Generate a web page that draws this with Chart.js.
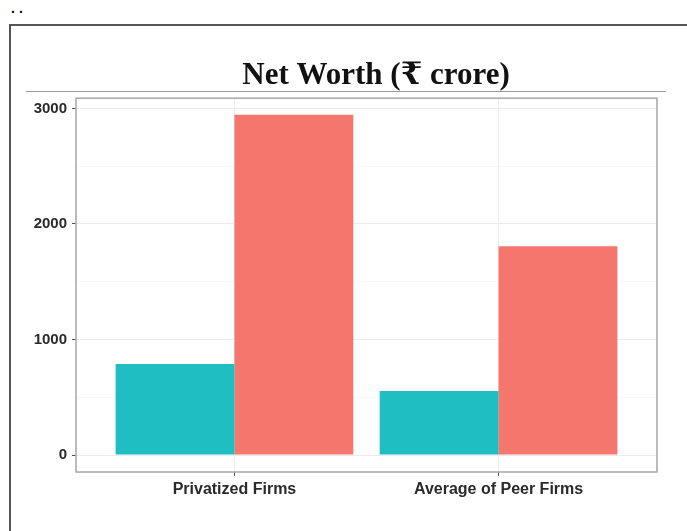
<!DOCTYPE html>
<html>
<head>
<meta charset="utf-8">
<script src="https://cdn.jsdelivr.net/npm/chart.js@4"></script>
<style>
  html, body { margin: 0; padding: 0; background: #fff; overflow: hidden; width: 687px; height: 531px; }
  #dots { position: absolute; left: 11px; top: 0px; font: bold 14px 'Liberation Sans', Arial, sans-serif; letter-spacing: 4px; line-height: 16px; color: #000; }
  #frame { position: absolute; left: 9px; top: 24px; width: 720px; height: 600px; border: 2px solid #555; box-sizing: border-box; }
  #wrap { position: absolute; left: 0; top: 0; width: 687px; height: 531px; }
</style>
</head>
<body>
<div id="dots">..</div>
<div id="frame"></div>
<div id="wrap"><canvas id="c" width="687" height="531"></canvas></div>
<script>
// ---- data ----
const categories = ["Privatized Firms", "Average of Peer Firms"];
const seriesNames = ["Series 1", "Series 2"];
const tealValues = [787, 554];
const salmonValues = [2946, 1808];
const yTickValues = [0, 1000, 2000, 3000];
const yMinorValues = [500, 1500, 2500];
const titleText = "Net Worth (₹ crore)";

const positions = categories.map((c, i) => i + 1);
const toPoints = vals => vals.map((v, i) => ({ x: positions[i], y: v }));

const decor = {
  id: 'decor',
  afterLayout(chart) {
    if (chart.titleBlock) {
      chart.titleBlock.left = 65;
      chart.titleBlock.right = 687;
    }
  },
  afterDraw(chart) {
    const ctx = chart.ctx;
    const a = chart.chartArea;
    ctx.save();
    ctx.strokeStyle = '#9a9a9a';
    ctx.lineWidth = 1;
    ctx.beginPath();
    ctx.moveTo(26, 91.5);
    ctx.lineTo(666, 91.5);
    ctx.stroke();
    ctx.strokeStyle = '#acacac';
    ctx.lineWidth = 1.6;
    ctx.strokeRect(a.left, a.top, a.right - a.left, a.bottom - a.top);
    ctx.restore();
  }
};

const yFont = { family: "'Liberation Sans', Arial, sans-serif", size: 15, weight: 'bold' };
const xFont = { family: "'Liberation Sans', Arial, sans-serif", size: 16, weight: 'bold' };

new Chart(document.getElementById('c'), {
  type: 'bar',
  data: {
    datasets: [
      { label: seriesNames[0], data: toPoints(tealValues), backgroundColor: '#1ebec3', borderWidth: 0 },
      { label: seriesNames[1], data: toPoints(salmonValues), backgroundColor: '#f4766c', borderWidth: 0 }
    ]
  },
  options: {
    responsive: false,
    animation: false,
    devicePixelRatio: 1,
    layout: { padding: { left: 0, right: 30, top: 0, bottom: 0 } },
    datasets: { bar: { categoryPercentage: 0.9, barPercentage: 1.0 } },
    plugins: {
      legend: { display: false },
      tooltip: { enabled: false },
      title: {
        display: true,
        text: titleText,
        color: '#111',
        font: { family: "'Liberation Serif', 'Times New Roman', 'DejaVu Serif', serif", size: 31, weight: 'bold', lineHeight: 1.2 },
        padding: { top: 57, bottom: 4 }
      }
    },
    scales: {
      x: {
        type: 'linear',
        min: 0.4,
        max: 2.6,
        offset: false,
        afterBuildTicks: s => { s.ticks = positions.map(v => ({ value: v })); },
        afterFit: s => { s.height = 59; },
        border: { display: false },
        grid: { offset: false, color: '#ebebeb', lineWidth: 1, tickLength: 4, tickColor: '#555', tickWidth: 1 },
        ticks: {
          font: xFont, color: '#2a2a2a', padding: 4, maxRotation: 0, autoSkip: false,
          callback: v => categories[v - 1] ?? ''
        }
      },
      y: {
        min: -147,
        max: 3089,
        afterBuildTicks: s => {
          s.ticks = yTickValues.concat(yMinorValues).sort((a, b) => a - b).map(v => ({ value: v }));
        },
        afterFit: s => { s.width = 76; },
        border: { display: false },
        grid: {
          color: ctx => yTickValues.includes(ctx.tick.value) ? '#ebebeb' : '#f5f5f5',
          lineWidth: ctx => yTickValues.includes(ctx.tick.value) ? 1 : 0.8,
          tickLength: 4,
          tickColor: ctx => yTickValues.includes(ctx.tick.value) ? '#555' : 'rgba(0,0,0,0)',
          tickWidth: 1
        },
        ticks: {
          font: yFont, color: '#2a2a2a', padding: 5, autoSkip: false,
          callback: v => yTickValues.includes(v) ? String(v) : ''
        }
      }
    }
  },
  plugins: [decor]
});
</script>
</body>
</html>
